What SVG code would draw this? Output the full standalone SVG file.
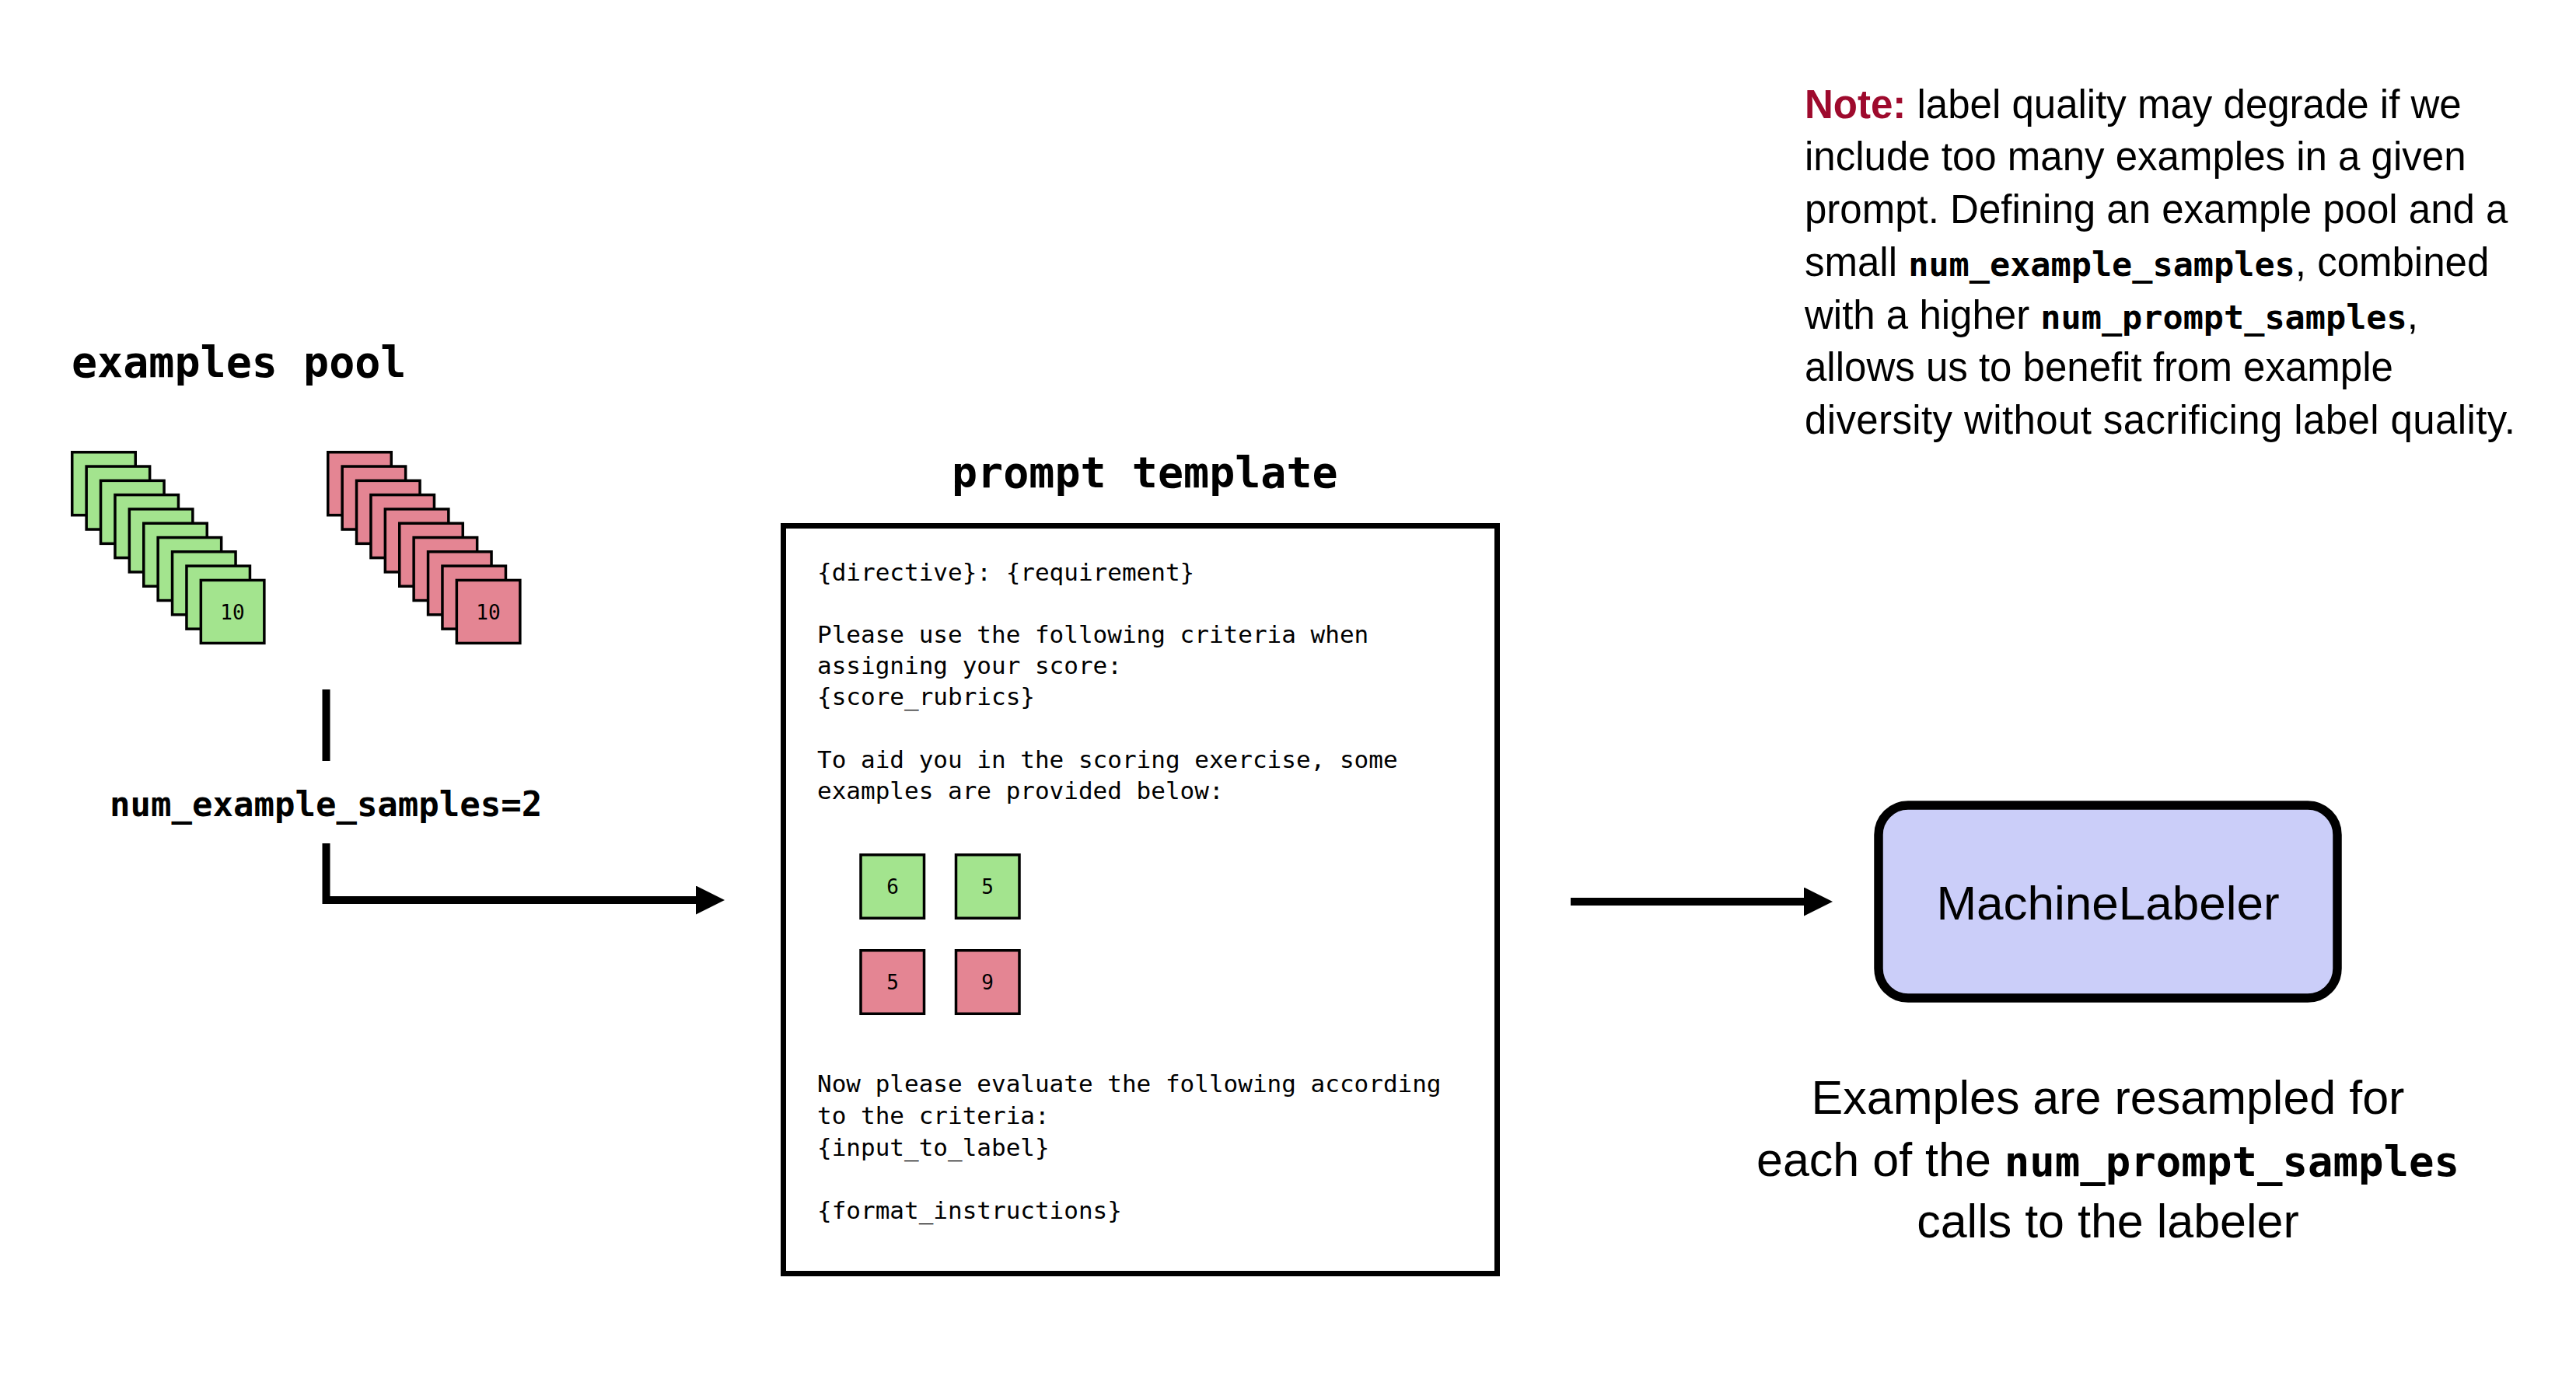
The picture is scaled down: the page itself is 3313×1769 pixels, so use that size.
<svg xmlns="http://www.w3.org/2000/svg" width="3313" height="1769" viewBox="0 0 3313 1769">
  <style>
    .mono { font-family: "DejaVu Sans Mono", "Liberation Mono", monospace; }
    .sans { font-family: "Liberation Sans", Arial, sans-serif; }
    .head { font-size: 55px; font-weight: bold; fill: #000; }
    .body { font-size: 31px; fill: #000; }
    .card { stroke: #000; stroke-width: 3.5; }
    .green { fill: #a3e48e; }
    .red { fill: #e48593; }
    .num { font-size: 26px; fill: #000; text-anchor: middle; }
    .note { font-size: 51px; fill: #000; }
    .code { font-weight: bold; }
    .cap { font-size: 61px; fill: #000; text-anchor: middle; }
    .conn { fill: none; stroke: #000; stroke-width: 10; stroke-linejoin: miter; }
  </style>
  <defs>
    <marker id="arrow" markerUnits="userSpaceOnUse" markerWidth="37" markerHeight="37" refX="0" refY="18.5" orient="auto">
      <path d="M0,0 L37,18.5 L0,37 Z" fill="#000"/>
    </marker>
  </defs>
  <rect width="3313" height="1769" fill="#fff"/>

  <g id="examples-pool">
    <text class="mono head" x="92" y="485">examples pool</text>
    <g id="green-stack">
      <rect class="card green" x="92.75" y="581.75" width="81.5" height="81"/>
      <rect class="card green" x="111.15" y="600.05" width="81.5" height="81"/>
      <rect class="card green" x="129.55" y="618.35" width="81.5" height="81"/>
      <rect class="card green" x="147.95" y="636.65" width="81.5" height="81"/>
      <rect class="card green" x="166.35" y="654.95" width="81.5" height="81"/>
      <rect class="card green" x="184.75" y="673.25" width="81.5" height="81"/>
      <rect class="card green" x="203.15" y="691.55" width="81.5" height="81"/>
      <rect class="card green" x="221.55" y="709.85" width="81.5" height="81"/>
      <rect class="card green" x="239.95" y="728.15" width="81.5" height="81"/>
      <rect class="card green" x="258.35" y="746.45" width="81.5" height="81"/>
      <text class="mono num" x="299" y="797">10</text>
    </g>
    <g id="red-stack">
      <rect class="card red" x="421.75" y="581.75" width="81.5" height="81"/>
      <rect class="card red" x="440.15" y="600.05" width="81.5" height="81"/>
      <rect class="card red" x="458.55" y="618.35" width="81.5" height="81"/>
      <rect class="card red" x="476.95" y="636.65" width="81.5" height="81"/>
      <rect class="card red" x="495.35" y="654.95" width="81.5" height="81"/>
      <rect class="card red" x="513.75" y="673.25" width="81.5" height="81"/>
      <rect class="card red" x="532.15" y="691.55" width="81.5" height="81"/>
      <rect class="card red" x="550.55" y="709.85" width="81.5" height="81"/>
      <rect class="card red" x="568.95" y="728.15" width="81.5" height="81"/>
      <rect class="card red" x="587.35" y="746.45" width="81.5" height="81"/>
      <text class="mono num" x="628" y="797">10</text>
    </g>
  </g>

  <g id="sampling-label">
    <text class="mono code" x="141" y="1050" font-size="44">num_example_samples=2</text>
  </g>

  <g id="prompt-template">
    <text class="mono head" x="1224" y="627">prompt template</text>
    <rect x="1007.5" y="676.5" width="918" height="962" fill="#fff" stroke="#000" stroke-width="7"/>
    <g class="mono body">
      <text x="1051" y="747">{directive}: {requirement}</text>
      <text x="1051" y="827">Please use the following criteria when</text>
      <text x="1051" y="867">assigning your score:</text>
      <text x="1051" y="907">{score_rubrics}</text>
      <text x="1051" y="988">To aid you in the scoring exercise, some</text>
      <text x="1051" y="1028">examples are provided below:</text>
      <text x="1051" y="1405">Now please evaluate the following according</text>
      <text x="1051" y="1446">to the criteria:</text>
      <text x="1051" y="1487">{input_to_label}</text>
      <text x="1051" y="1568">{format_instructions}</text>
    </g>
    <g id="sampled-examples">
      <rect class="card green" x="1107" y="1099.75" width="81.5" height="81.5"/>
      <rect class="card green" x="1229.5" y="1099.75" width="81.5" height="81.5"/>
      <rect class="card red" x="1107" y="1222.75" width="81.5" height="81.5"/>
      <rect class="card red" x="1229.5" y="1222.75" width="81.5" height="81.5"/>
      <text class="mono num" x="1148" y="1150">6</text>
      <text class="mono num" x="1270" y="1150">5</text>
      <text class="mono num" x="1148" y="1273">5</text>
      <text class="mono num" x="1270" y="1273">9</text>
    </g>
  </g>

  <g id="machine-labeler">
    <rect x="2416" y="1036" width="590" height="248" rx="38" ry="38" fill="#cbcef9" stroke="#000" stroke-width="11.5"/>
    <text class="sans" x="2711" y="1183" font-size="62" text-anchor="middle" fill="#000">MachineLabeler</text>
  </g>

  <g id="note">
    <text class="sans note" x="2321" y="152"><tspan font-weight="bold" fill="#9e0a2d">Note:</tspan> label quality may degrade if we</text>
    <text class="sans note" x="2321" y="219">include too many examples in a given</text>
    <text class="sans note" x="2321" y="287">prompt. Defining an example pool and a</text>
    <text class="sans note" x="2321" y="355">small <tspan class="mono code" font-size="43.5">num_example_samples</tspan>, combined</text>
    <text class="sans note" x="2321" y="423">with a higher <tspan class="mono code" font-size="43.5">num_prompt_samples</tspan>,</text>
    <text class="sans note" x="2321" y="490">allows us to benefit from example</text>
    <text class="sans note" x="2321" y="558" textLength="914" lengthAdjust="spacing">diversity without sacrificing label quality.</text>
  </g>

  <g id="caption">
    <text class="sans cap" x="2711" y="1433">Examples are resampled for</text>
    <text class="sans cap" x="2711" y="1513">each of the <tspan class="mono code" font-size="54">num_prompt_samples</tspan></text>
    <text class="sans cap" x="2711" y="1592">calls to the labeler</text>
  </g>

  <g id="connectors">
    <line class="conn" x1="419.5" y1="887" x2="419.5" y2="979"/>
    <path class="conn" d="M419.5,1085 V1158 H895" marker-end="url(#arrow)"/>
    <line class="conn" x1="2020" y1="1160" x2="2320" y2="1160" marker-end="url(#arrow)"/>
  </g>
</svg>
